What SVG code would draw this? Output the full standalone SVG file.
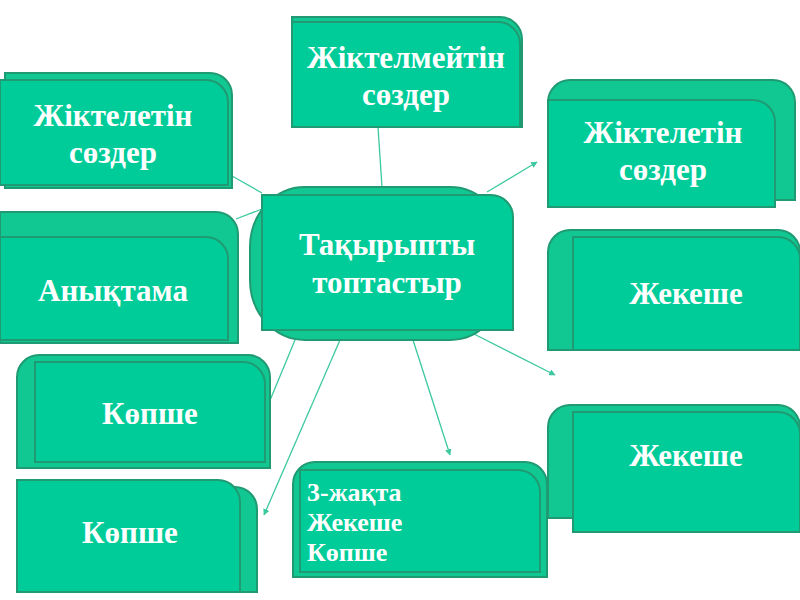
<svg xmlns="http://www.w3.org/2000/svg" width="800" height="600" viewBox="0 0 800 600">
<defs>
<style>
.b{fill:#12c892;stroke:#1f9a72;stroke-width:2}
.f{fill:#00cc99;stroke:#1f9a72;stroke-width:2}
.t{font-family:"Liberation Serif","DejaVu Serif",serif;font-weight:bold;fill:#ffffff;font-size:31px;text-anchor:middle}
.s{font-size:26px;text-anchor:start}
.c{stroke:#3cc9a0;stroke-width:1.3;fill:none}
</style>
<marker id="ah" viewBox="0 0 10 10" refX="9" refY="5" markerWidth="5" markerHeight="5" orient="auto">
<path d="M0 0 L10 5 L0 10 Z" fill="#3cc9a0"/>
</marker>
</defs>
<rect width="800" height="600" fill="#ffffff"/>
<g id="connectors">
<line class="c" x1="232" y1="176" x2="262" y2="193"/>
<line class="c" x1="236" y1="219" x2="262" y2="209"/>
<line class="c" x1="378" y1="127" x2="382" y2="187"/>
<line class="c" x1="487" y1="192" x2="537" y2="162" marker-end="url(#ah)"/>
<line class="c" x1="470" y1="332" x2="555" y2="375" marker-end="url(#ah)"/>
<line class="c" x1="413" y1="340" x2="450" y2="455" marker-end="url(#ah)"/>
<line class="c" x1="340" y1="340" x2="264" y2="515" marker-end="url(#ah)"/>
<line class="c" x1="295" y1="340" x2="266" y2="410"/>
</g>
<g id="n1">
<path class="b" d="M5 188 V73 H210 A22 22 0 0 1 232 95 V188 Z"/>
<path class="f" d="M0 185 V80 H206 A22 22 0 0 1 228 102 V185 Z"/>
<text class="t" x="113" y="126">Жіктелетін</text>
<text class="t" x="113" y="163">сөздер</text>
</g>
<g id="n2">
<path class="b" d="M292 127 V17 H500 A22 22 0 0 1 522 39 V127 Z"/>
<path class="f" d="M292 127 V22 H498 A22 22 0 0 1 520 44 V127 Z"/>
<text class="t" x="406" y="68">Жіктелмейтін</text>
<text class="t" x="406" y="105">сөздер</text>
</g>
<g id="n3">
<path class="b" d="M548 200 V102 A22 22 0 0 1 570 80 H773 A22 22 0 0 1 795 102 V200 Z"/>
<path class="f" d="M548 207 V100 H753 A22 22 0 0 1 775 122 V207 Z"/>
<text class="t" x="663" y="143">Жіктелетін</text>
<text class="t" x="663" y="180">сөздер</text>
</g>
<g id="n4">
<path class="b" d="M0 343 V212 H216 A22 22 0 0 1 238 234 V343 Z"/>
<path class="f" d="M0 340 V237 H206 A22 22 0 0 1 228 259 V340 Z"/>
<text class="t" x="113" y="301">Анықтама</text>
</g>
<g id="center">
<rect class="b" x="250" y="187" width="255" height="153" rx="55" ry="60"/>
<path class="f" d="M262 330 V195 H491 A22 22 0 0 1 513 217 V330 Z"/>
<text class="t" x="387" y="255">Тақырыпты</text>
<text class="t" x="387" y="293">топтастыр</text>
</g>
<g id="n6">
<path class="b" d="M548 350 V252 A22 22 0 0 1 570 230 H778 A22 22 0 0 1 800 252 V350 Z"/>
<path class="f" d="M573 350 V237 H778 A22 22 0 0 1 800 259 V350 Z"/>
<text class="t" x="686" y="304">Жекеше</text>
</g>
<g id="n7">
<path class="b" d="M17 468 V377 A22 22 0 0 1 39 355 H248 A22 22 0 0 1 270 377 V468 Z"/>
<path class="f" d="M35 462 V362 H243 A22 22 0 0 1 265 384 V462 Z"/>
<text class="t" x="150" y="424">Көпше</text>
</g>
<g id="n8">
<path class="b" d="M548 518 V427 A22 22 0 0 1 570 405 H778 A22 22 0 0 1 800 427 V518 Z"/>
<path class="f" d="M573 532 V412 H778 A22 22 0 0 1 800 434 V532 Z"/>
<text class="t" x="686" y="466">Жекеше</text>
</g>
<g id="n9">
<path class="b" d="M30 592 V487 H235 A22 22 0 0 1 257 509 V592 Z"/>
<path class="f" d="M17 592 V480 H218 A22 22 0 0 1 240 502 V592 Z"/>
<text class="t" x="130" y="543">Көпше</text>
</g>
<g id="n10">
<path class="b" d="M293 577 V484 A22 22 0 0 1 315 462 H525 A22 22 0 0 1 547 484 V577 Z"/>
<path class="f" d="M300 572 V470 H518 A22 22 0 0 1 540 492 V572 Z"/>
<text class="t s" x="307" y="501">3-жақта</text>
<text class="t s" x="307" y="531">Жекеше</text>
<text class="t s" x="307" y="561">Көпше</text>
</g>
</svg>
